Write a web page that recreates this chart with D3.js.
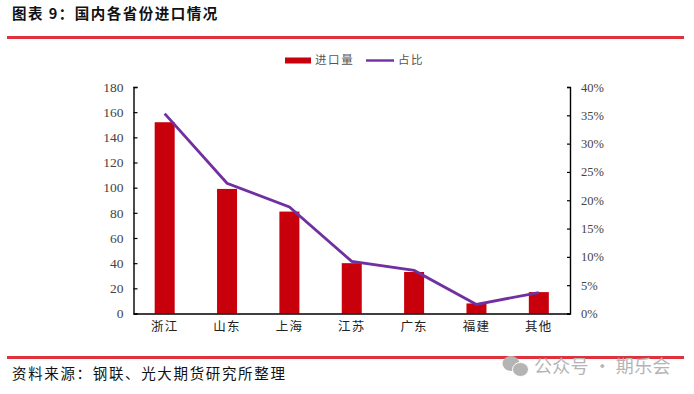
<!DOCTYPE html>
<html>
<head>
<meta charset="utf-8">
<script src="https://cdn.jsdelivr.net/npm/d3@7"></script>
<style>
  html, body { margin: 0; padding: 0; background: #fff; }
  .cjk { font-family: "Noto Sans CJK SC", sans-serif; }
</style>
</head>
<body>
<div id="root"></div>
<script>
var provinces = ['浙江', '山东', '上海', '江苏', '广东', '福建', '其他'];
var imports = [152, 99, 81, 40, 33, 8, 17];
var shares = [0.353, 0.23, 0.188, 0.092, 0.076, 0.016, 0.037];
var leftTicks = [0, 20, 40, 60, 80, 100, 120, 140, 160, 180];
var rightTicks = [0, 0.05, 0.1, 0.15, 0.2, 0.25, 0.3, 0.35, 0.4];

var red = '#c7000b', purple = '#7030a0', ruleRed = '#e0323c';

var svg = d3.select('#root')
  .append('svg')
    .attr('width', 694)
    .attr('height', 394)
    .style('display', 'block');

var margin = { top: 87, left: 133.5 },
  width = 436.5,
  height = 226.5;

// title and rules
svg.append('text')
  .attr('class', 'cjk')
  .attr('x', 12)
  .attr('y', 19)
  .attr('font-size', '14.5px')
  .attr('font-weight', 700)
  .attr('letter-spacing', '1.5px')
  .attr('fill', '#111')
  .text('图表 9：国内各省份进口情况');

svg.append('rect').attr('x', 7).attr('y', 36).attr('width', 677).attr('height', 3).attr('fill', ruleRed);
svg.append('rect').attr('x', 7).attr('y', 356).attr('width', 677).attr('height', 3).attr('fill', ruleRed);

svg.append('text')
  .attr('class', 'cjk')
  .attr('x', 12)
  .attr('y', 379)
  .attr('font-size', '14.5px')
  .attr('letter-spacing', '1.65px')
  .attr('fill', '#111')
  .text('资料来源：钢联、光大期货研究所整理');

var g = svg.append('g')
  .attr('transform', 'translate(' + margin.left + ', ' + margin.top + ')');

var xScale = d3.scaleBand()
  .domain(provinces)
  .range([0, width]);

var yLeft = d3.scaleLinear()
  .domain([0, 180])
  .range([height, 0]);

var yRight = d3.scaleLinear()
  .domain([0, 0.4])
  .range([height, 0]);

var barWidth = 20;

g.selectAll('rect.bar')
  .data(imports)
  .enter()
  .append('rect')
    .attr('class', 'bar')
    .attr('x', (d, i) => xScale(provinces[i]) + xScale.bandwidth() / 2 - barWidth / 2)
    .attr('y', d => yLeft(d))
    .attr('width', barWidth)
    .attr('height', d => height - yLeft(d))
    .attr('fill', red);

var line = d3.line()
  .x((d, i) => xScale(provinces[i]) + xScale.bandwidth() / 2)
  .y(d => yRight(d));

g.append('path')
  .datum(shares)
  .attr('d', line)
  .attr('fill', 'none')
  .attr('stroke', purple)
  .attr('stroke-width', 2.8);

// axes
var leftAxis = d3.axisLeft(yLeft)
  .tickValues(leftTicks)
  .tickSize(-4)
  .tickPadding(10);

var leftG = g.append('g').call(leftAxis);

var rightAxis = d3.axisRight(yRight)
  .tickValues(rightTicks)
  .tickFormat(d3.format('.0%'))
  .tickSize(-3)
  .tickPadding(11);

var rightG = g.append('g')
  .attr('transform', 'translate(' + width + ', 0)')
  .call(rightAxis);

var bottomAxis = d3.axisBottom(xScale)
  .tickSize(0)
  .tickPadding(9);

var bottomG = g.append('g')
  .attr('transform', 'translate(0, ' + height + ')')
  .call(bottomAxis);

[leftG, rightG, bottomG].forEach(a => {
  a.selectAll('path.domain').attr('stroke', '#000').attr('stroke-width', 1.4);
  a.selectAll('.tick line').attr('stroke', '#000').attr('stroke-width', 1.2);
});

leftG.selectAll('text').attr('font-size', '13.5px').attr('fill', '#444').style('font-family', '"Liberation Serif", serif');
rightG.selectAll('text').attr('font-size', '12.5px').attr('fill', '#444').style('font-family', '"Liberation Serif", serif');
bottomG.selectAll('text').attr('font-size', '12.5px').attr('letter-spacing', '1.2px').attr('fill', '#222').style('font-family', '"Noto Sans CJK SC", sans-serif');

// legend
svg.append('rect').attr('x', 285).attr('y', 57.5).attr('width', 26).attr('height', 6).attr('fill', red);
svg.append('text').attr('class', 'cjk').attr('x', 315).attr('y', 64).attr('font-size', '11.5px').attr('letter-spacing', '1.6px').attr('fill', '#555').text('进口量');
svg.append('line').attr('x1', 366).attr('x2', 394).attr('y1', 60.5).attr('y2', 60.5).attr('stroke', purple).attr('stroke-width', 2.4);
svg.append('text').attr('class', 'cjk').attr('x', 398).attr('y', 64).attr('font-size', '11.5px').attr('letter-spacing', '1.6px').attr('fill', '#555').text('占比');

// watermark
var mark = svg.append('g').attr('fill', '#b4b4b4');
mark.append('ellipse').attr('cx', 511).attr('cy', 363.5).attr('rx', 8.5).attr('ry', 7.5);
mark.append('ellipse').attr('cx', 520.5).attr('cy', 369.5).attr('rx', 8).attr('ry', 7).attr('stroke', '#fff').attr('stroke-width', 1);
svg.append('text')
  .attr('class', 'cjk')
  .attr('x', 534)
  .attr('y', 372.5)
  .attr('font-size', '18px')
  .attr('letter-spacing', '0.3px')
  .attr('fill', '#b4b4b4')
  .text('公众号 · 期乐会');
</script>
</body>
</html>
